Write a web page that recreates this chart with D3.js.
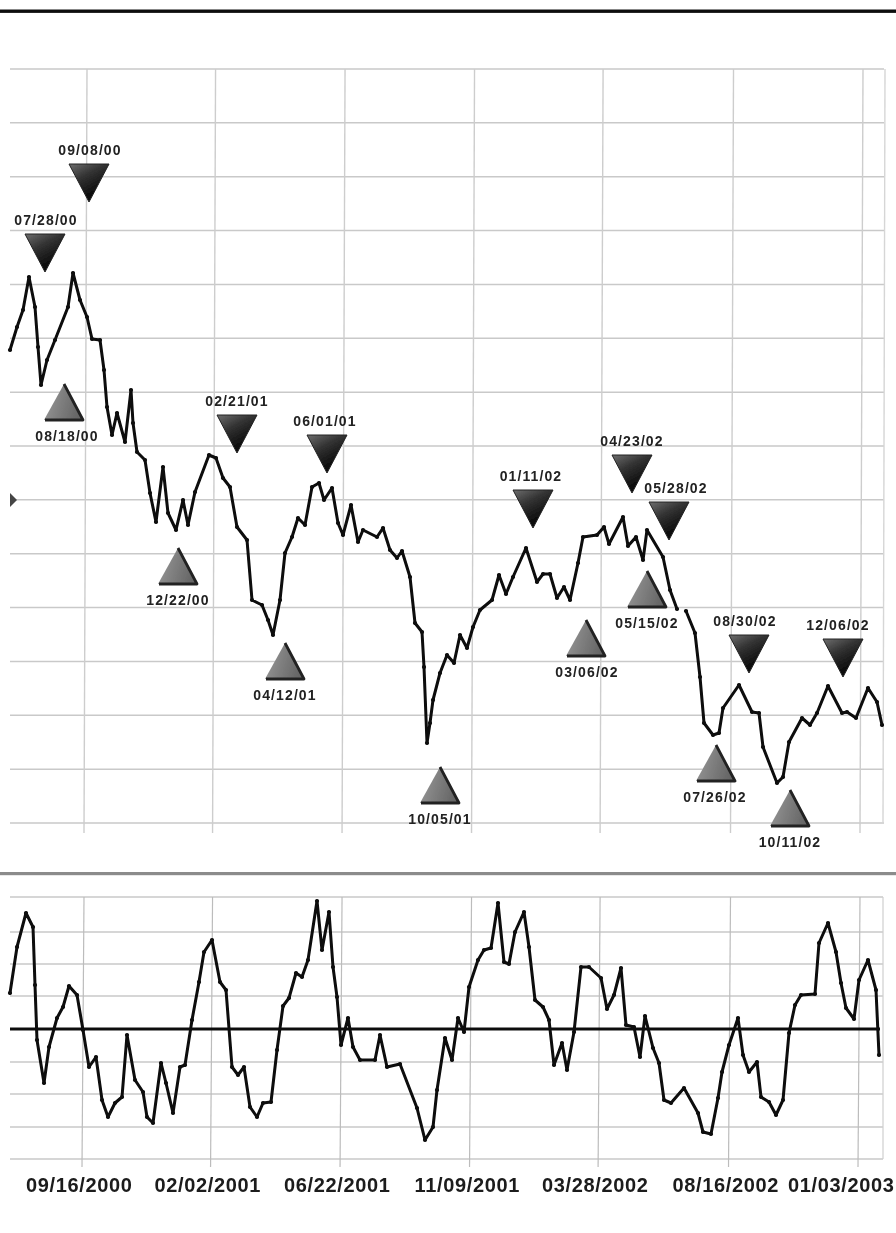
<!DOCTYPE html>
<html><head><meta charset="utf-8">
<script src="https://cdn.jsdelivr.net/npm/d3@7"></script>
<style>html,body{margin:0;padding:0;background:#fff}svg{display:block}</style>
</head><body><div id="chart"></div>
<script>
// time positions are in axis units: 0 = first tick date, 776 = last tick date
const tickLabels = ["09/16/2000","02/02/2001","06/22/2001","11/09/2001","03/28/2002","08/16/2002","01/03/2003"];
const priceTimes = [-77,-70,-64,-58,-52,-49,-46,-40,-32,-19,-14,-7,0,5,13,17,20,25,30,38,44,46,50,58,63,69,76,81,89,96,101,108,122,129,136,143,150,160,165,175,181,186,193,198,205,211,218,225,232,237,245,251,256,264,271,276,290,296,303,310,315,323,328,335,337,340,343,346,353,360,367,373,380,386,393,405,412,419,426,439,450,456,463,470,477,483,491,496,510,517,522,536,541,549,556,560,576,583,590,594,599,608,613,617,626,632,636,652,665,672,676,690,696,702,715,723,730,741,755,760,769,781,790,795];
const priceValues = [473,496,513,546,516,476,438,463,483,516,550,523,506,484,483,453,416,388,410,381,433,400,371,363,330,301,356,310,293,323,298,331,368,365,345,336,296,283,223,218,203,188,223,270,286,305,298,336,340,323,335,300,288,318,281,293,286,295,273,265,272,246,200,191,156,80,100,123,150,168,160,188,175,196,213,223,248,229,246,275,241,249,249,225,236,223,260,286,288,296,279,306,277,286,263,293,266,233,214,null,212,190,146,100,88,90,115,138,111,110,76,40,46,81,105,98,110,137,110,111,105,135,121,98];
const oscTimes = [-73,-66,-57,-50,-48,-46,-39,-34,-26,-20,-14,-6,0,6,13,19,25,32,39,44,52,60,64,70,78,83,90,97,102,109,116,121,129,137,143,149,155,161,167,174,180,188,194,200,206,213,219,225,234,239,246,250,254,258,265,270,277,292,297,304,317,334,342,350,354,362,369,375,381,386,395,401,408,415,421,426,432,441,446,452,460,466,471,479,484,491,498,506,518,524,531,538,543,551,557,562,570,576,581,588,601,615,620,628,635,639,646,655,660,666,674,678,686,693,700,706,712,718,732,736,745,753,758,763,771,776,785,793,796];
const oscValues = [36,82,116,102,44,-11,-54,-18,11,22,43,34,-1,-38,-28,-71,-88,-74,-68,-6,-51,-63,-88,-94,-34,-54,-84,-38,-36,9,47,77,89,47,39,-38,-46,-38,-78,-88,-74,-73,-21,23,31,56,52,69,128,79,117,62,32,-16,11,-18,-31,-31,-6,-38,-35,-79,-111,-98,-61,-9,-31,11,-3,42,69,79,81,126,67,65,97,117,82,29,22,9,-36,-14,-41,-3,62,62,51,20,34,61,4,2,-28,13,-19,-34,-71,-74,-59,-84,-103,-105,-69,-43,-16,11,-26,-43,-33,-68,-73,-86,-71,-4,24,34,35,86,106,77,46,21,10,49,69,39,-26];
const sellLabels = ["07/28/00","09/08/00","02/21/01","06/01/01","01/11/02","04/23/02","05/28/02","08/30/02","12/06/02"];
const sellTimes = [-42,2,150,240,446,545,582,662,756];
const sellValues = [551,621,370,350,295,330,283,150,146];
const sellLabelTimes = [-41,3,150,238,444,545,589,658,751];
const buyLabels = ["08/18/00","12/22/00","04/12/01","10/05/01","03/06/02","05/15/02","07/26/02","10/11/02"];
const buyTimes = [-23,91,198,353,499,560,629,703];
const buyValues = [439,275,180,56,203,252,78,33];
const buyLabelTimes = [-20,91,198,353,500,560,628,703];
const priceGridValues = d3.range(0, 15);      // grid rows of the upper panel
const oscGridValues = [-130,-98,-65,-33,33,65,97,132];

const W = 896, H = 1233;
const svg = d3.select("#chart").append("svg").attr("width", W).attr("height", H);
const defs = svg.append("defs");
defs.append("filter").attr("id","scan").attr("x","-2%").attr("y","-2%").attr("width","104%").attr("height","104%")
  .append("feGaussianBlur").attr("stdDeviation",0.6);
const gd = defs.append("linearGradient").attr("id","sellFill").attr("x1","0").attr("y1","0").attr("x2","0.55").attr("y2","1");
gd.append("stop").attr("offset","0").attr("stop-color","#6e6e6e");
gd.append("stop").attr("offset","0.4").attr("stop-color","#333");
gd.append("stop").attr("offset","1").attr("stop-color","#000");
const gu = defs.append("linearGradient").attr("id","buyFill").attr("x1","0").attr("y1","0").attr("x2","1").attr("y2","0.25");
gu.append("stop").attr("offset","0").attr("stop-color","#9c9c9c");
gu.append("stop").attr("offset","0.55").attr("stop-color","#7d7d7d");
gu.append("stop").attr("offset","1").attr("stop-color","#666");

const root = svg.append("g").attr("filter","url(#scan)");
root.append("rect").attr("width",W).attr("height",H).attr("fill","#fff");

const x = d3.scaleLinear().domain([0,776]).range([83,859]);
const tDate = d3.timeParse("%m/%d/%Y");
const tickScale = d3.scaleTime().domain([tDate(tickLabels[0]), tDate(tickLabels[6])]).range([0,776]);
const tickTimes = tickLabels.map(s => tickScale(tDate(s)));
const upperShift = 4;
const xU = t => x(t) + upperShift;
const yP = d3.scaleLinear().domain([0,754]).range([823,69]);
const yG = d3.scaleLinear().domain([0,14]).range([823,69]);
const yO = d3.scaleLinear().domain([-130,132]).range([1159,897]);

// rules
root.append("rect").attr("x",0).attr("y",9.5).attr("width",W).attr("height",3.4).attr("fill","#111");
root.append("rect").attr("x",0).attr("y",872).attr("width",W).attr("height",3.2).attr("fill","#8b8b8b");

// upper grid
const gridC = "#c9c9c9";
root.append("g").selectAll("line").data(priceGridValues).join("line")
  .attr("x1",10).attr("x2",884).attr("y1",d=>yG(d)).attr("y2",d=>yG(d))
  .attr("stroke",gridC).attr("stroke-width",1.5);
root.append("g").selectAll("line").data(tickTimes).join("line")
  .attr("x1",d=>xU(d)).attr("x2",d=>xU(d)-3).attr("y1",69).attr("y2",833)
  .attr("stroke","#cdcdcd").attr("stroke-width",1.4);
root.append("line").attr("x1",885).attr("x2",883).attr("y1",69).attr("y2",823).attr("stroke","#d6d6d6").attr("stroke-width",1.4);

// lower grid
root.append("g").selectAll("line").data(oscGridValues).join("line")
  .attr("x1",10).attr("x2",883).attr("y1",d=>yO(d)).attr("y2",d=>yO(d))
  .attr("stroke",gridC).attr("stroke-width",1.5);
root.append("g").selectAll("line").data(tickTimes).join("line")
  .attr("x1",d=>x(d)+1).attr("x2",d=>x(d)-1).attr("y1",897).attr("y2",1167)
  .attr("stroke","#bcbcbc").attr("stroke-width",1.2);
root.append("line").attr("x1",883).attr("x2",883).attr("y1",897).attr("y2",1159).attr("stroke","#cfcfcf").attr("stroke-width",1.2);

// zero line
root.append("line").attr("x1",10).attr("x2",880).attr("y1",yO(0)).attr("y2",yO(0)).attr("stroke","#111").attr("stroke-width",3);

// series
function series(times, values, xf, yf) {
  const pts = times.map((t,i)=>[t,values[i]]);
  const line = d3.line().defined(d=>d[1]!==null).x(d=>xf(d[0])).y(d=>yf(d[1]));
  root.append("path").attr("d",line(pts)).attr("fill","none").attr("stroke","#0a0a0a")
    .attr("stroke-width",3).attr("stroke-linejoin","round").attr("stroke-linecap","round");
  root.append("g").selectAll("circle").data(pts.filter(d=>d[1]!==null)).join("circle")
    .attr("cx",d=>xf(d[0])).attr("cy",d=>yf(d[1])).attr("r",2.1).attr("fill","#0a0a0a");
}
series(priceTimes, priceValues, xU, yP);
series(oscTimes, oscValues, x, yO);

// markers
const triW = 20, triH = 38;
const labelOffset = 52;
const labelStyle = s => s.attr("font-family","'Liberation Sans',Arial,sans-serif").attr("font-size",14)
  .attr("font-weight",700).attr("letter-spacing",1.1).attr("fill","#222").attr("text-anchor","middle");

const sell = sellLabels.map((l,i)=>({l,t:sellTimes[i],v:sellValues[i],lt:sellLabelTimes[i]}));
const sg = root.append("g").selectAll("g").data(sell).join("g");
sg.append("path").attr("d",d=>{const X=xU(d.t),Y=yP(d.v);return `M${X},${Y}L${X-triW},${Y-triH}L${X+triW},${Y-triH}Z`;})
  .attr("fill","url(#sellFill)").attr("stroke","#222").attr("stroke-width",1).attr("stroke-linejoin","round");
sg.append("text").attr("x",d=>xU(d.lt)).attr("y",d=>yP(d.v)-labelOffset+5).text(d=>d.l).call(labelStyle);

const buy = buyLabels.map((l,i)=>({l,t:buyTimes[i],v:buyValues[i],lt:buyLabelTimes[i]}));
const bg = root.append("g").selectAll("g").data(buy).join("g");
bg.append("path").attr("d",d=>{const X=xU(d.t),Y=yP(d.v);return `M${X},${Y}L${X-triW},${Y+triH-2}L${X+triW},${Y+triH-2}Z`;})
  .attr("fill","url(#buyFill)");
bg.append("path").attr("d",d=>{const X=xU(d.t),Y=yP(d.v);return `M${X},${Y}L${X+triW-1},${Y+triH-2}L${X-triW+1},${Y+triH-2}`;})
  .attr("fill","none").attr("stroke","#222").attr("stroke-width",2.8).attr("stroke-linejoin","round");
bg.append("text").attr("x",d=>xU(d.lt)).attr("y",d=>yP(d.v)+labelOffset+5).text(d=>d.l).call(labelStyle);

// small off-chart marker at the left edge
root.append("path").attr("d",d3.line()([[10,493],[17,500],[10,507]])+"Z").attr("fill","#444");

// date axis
const axisG = root.append("g").attr("transform","translate(0,1170)")
  .call(d3.axisBottom(d3.scaleLinear().domain(x.domain()).range(x.range())).tickValues(tickTimes)
    .tickFormat((d,i)=>tickLabels[i]).tickSize(0).tickPadding(0));
axisG.select(".domain").remove();
axisG.selectAll("text")
  .attr("font-family","'Liberation Sans',Arial,sans-serif").attr("font-size",20).attr("font-weight",700)
  .attr("letter-spacing",0.65).attr("fill","#1a1a1a")
  .attr("text-anchor","end")
  .attr("dy",0).attr("y",22)
  .attr("x",function(d){ return Math.min(x(d)+49, 894) - x(d); });
</script></body></html>
